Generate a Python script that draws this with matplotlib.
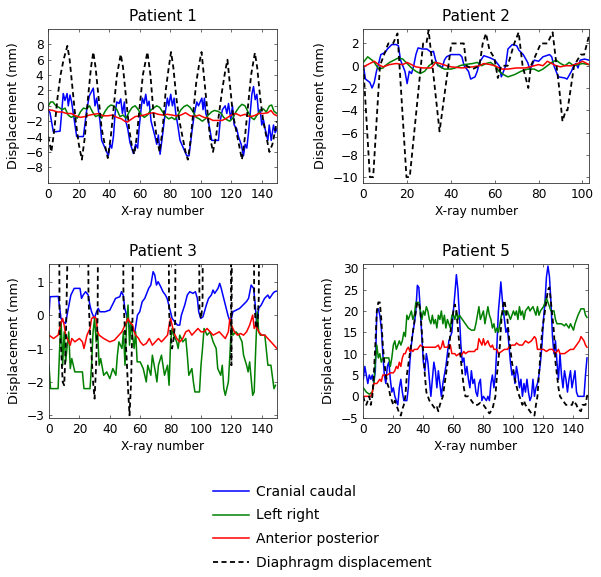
import matplotlib
matplotlib.use("Agg")
import matplotlib.pyplot as plt

# ---- Patient 1 ----
p1_cc_x = [0, 1.1, 3.3, 7.7, 9.8, 10.9, 12.3, 13.1, 14.2, 15.3, 18.6, 23, 25.2, 26.9, 29.5, 30.6, 31.7, 32.8, 33.9, 35,
           36.1, 39.4, 40.5, 41.6, 42.7, 43.8, 44.9, 46.4, 47.5, 48.6, 49.9, 50.8, 52.1, 53.6, 55.8, 57.3, 58.6, 59.5,
           60.8, 61.7, 62.8, 63.9, 65, 66.1, 67.4, 68.7, 70, 71.1, 72.2, 73.3, 74.8, 76.6, 78.1, 79, 80.3, 81.4, 82.5,
           83.6, 84.9, 86.4, 88.6, 90.8, 92.3, 94.1, 95.8, 97.4, 98.5, 100.7, 101.5, 102.4, 103.3, 105, 107.2, 111.6,
           112.7, 114.2, 116, 117.1, 118.2, 119.7, 120.8, 121.9, 123.6, 124.7, 126.5, 128, 129.1, 130.2, 131.3, 132.4,
           133.5, 134.6, 135.7, 136.8, 137.9, 139, 140, 141.1, 142.2, 144, 144.9, 146.2, 147.7, 148.8, 150]
p1_cc = [-0.5, -0.9, -3.4, -3.3, 1.6, 0.7, 1.6, 0, 1.4, 0.5, -4, -4, -0.5, 1.3, 2.3, 0, 1, -0.5, -2, -4.5,
         -5, -6.5, -5, -5.5, -4, -1, 0.5, 0.3, 0.9, -1, 0.5, -2, -3, -4.8, -6.2, -5, -5.5, -3,
         -0.5, 1, 0.3, 1.5, 0, 0.6, -2, -3, -4, -5, -3.8, -6.3, -4, -1, 1, 0, 1.5, 0, 1,
         -1, -2.5, -4.5, -5.5, -6.5, -6.5, -3.5, -1, 0.5, 0, 1, -0.5, 1, -1, -2, -4.5, -4.5,
         -2, -0.5, 0, -1, 0.3, -1.8, 0, -2.5, -3, -4, -5, -6.5, -5, -5.5, -3.5, -1,
         1.5, 2.5, 0.8, 1.5, -1, -0.5, -2.5, -1.8, -3, -4.5, -2.5, -4.5, -2.5, -3.5, -3]
p1_lr_x = [0, 1.5, 3, 5, 7, 9, 11, 13, 15, 17, 19, 21, 23, 25, 27, 29, 31, 33, 35, 37, 39, 41, 43, 45, 47, 49, 51,
           53, 55, 57, 59, 61, 63, 65, 67, 69, 71, 73, 75, 77, 79, 81, 83, 85, 87, 89, 91, 93, 95, 97, 99, 101, 103,
           105, 107, 109, 111, 113, 115, 117, 119, 121, 123, 125, 127, 129, 131, 133, 135, 137, 139, 141, 143, 145,
           146.5, 148, 150]
p1_lr = [0, 0.5, 0.5, 0, -0.2, -0.5, -0.3, -1.2, -1.5, -1.3, -1.6, -0.8, -0.3, -0.4, 0, -0.8, -1.4, -1.2, -1.6, -0.8,
         -0.2, 0.1, 0, -0.5, -1.4, -1.2, -1.6, -0.8, -0.2, 0, -0.5, -1.2, -1.5, -1.2, -0.6, -0.3, 0, -0.2, -0.8, -1.4,
         -1.7, -1.5, -1.8, -1.2, -0.5, -0.1, 0.1, -0.2, -0.8, -1.5, -1.7, -2.0, -1.7, -1.2, -0.8, -0.6, -0.7, -0.9,
         -1.5, -1.8, -2.0, -1.6, -0.8, -0.2, 0.2, 0, -0.8, -1.5, -1.8, -1.2, -0.6, -0.4, -0.8, 0, 0.1, -0.7, -1]
p1_ap_x = [0, 3, 6, 9, 12, 15, 18, 21, 24, 27, 30, 33, 36, 39, 42, 45, 48, 50, 52, 54, 57, 60, 63, 66, 69, 72, 75, 78,
           81, 84, 87, 90, 93, 96, 99, 102, 105, 108, 111, 114, 117, 120, 123, 126, 129, 132, 135, 138, 141, 144, 146,
           148, 150]
p1_ap = [-0.5, -0.6, -0.8, -0.8, -1.0, -1.0, -1.3, -1.5, -1.4, -1.2, -1.1, -1.0, -1.3, -1.3, -1.2, -1.5, -1.7, -2.0,
         -2.1, -1.8, -1.4, -1.3, -1.2, -1.0, -0.9, -1.1, -1.2, -1.1, -1.2, -1.3, -1.2, -0.9, -1.3, -1.4, -1.2, -1.5,
         -1.6, -1.9, -1.9, -1.9, -1.6, -1.2, -1.0, -1.3, -1.1, -1.4, -1.3, -1.0, -1.0, -0.9, -0.6, -1.1, -1.3]
p1_dia_x = [0, 2, 4, 6, 8, 10, 12.5, 14, 16, 18, 20, 22, 24, 26, 28, 29.5, 31, 33, 35, 37, 39, 41, 43, 45, 47.5, 49,
            51, 53, 55, 56.5, 58, 60, 62, 65, 67, 69, 71, 73, 75, 77, 79, 80.5, 82, 84, 86, 88, 90, 91.5, 93, 95, 97,
            99, 100.5, 102, 104, 106, 108, 110, 112, 114, 116, 117.5, 119, 121, 123, 125, 127, 129, 131, 133, 135.5,
            137, 139, 141, 143, 145, 147, 149, 150]
p1_dia = [-4, -6, -3, 1, 4, 6, 7.8, 6, 2, -2, -5, -7, -4, 1, 5, 7, 5, 1, -3, -5, -6.8, -4, 0, 4, 6.7, 5,
          1, -3, -5.5, -6.3, -4, 0, 4, 7, 4, -1, -4, -6, -3, 2, 5, 7, 5, 1, -2, -4, -6, -7, -5, -1, 3,
          5.5, 7, 4, 0, -4, -6, -4, -1, 2, 4.5, 6, 3, -1, -3, -5, -7, -4, 0, 4, 6.9,
          5, 1, -2, -4, -6, -5, -3, -2]

# ---- Patient 2 ----
p2_cc_x = [0, 1, 3, 4, 5, 6, 7, 8, 10, 11, 13, 15, 16, 17, 18, 19, 20, 21, 22, 23, 24, 25, 27, 29, 31, 32, 33, 34,
           35, 36, 37, 38, 40, 44, 45, 46, 48, 49, 51, 52, 53, 55, 58, 60, 62, 63, 64, 65, 66, 68, 70, 71, 73, 75,
           76, 77, 78, 80, 82, 85, 86, 87, 88, 89, 92, 93, 95, 96, 97, 98, 99, 101, 103]
p2_cc = [0, -1.2, -1.5, -2, -1.5, -0.5, 0.2, 1, 1.2, 1.5, 1.9, 1.9, 1.8, 0.5, 0, -0.5, -1.6, -0.5, -0.7, 0, 1, 1.6,
         1.5, 1.5, 1.2, 1.3, 0.5, 0, 0, -0.2, 0.5, 0.8, 1, 1, 0.8, 0, -0.5, -1.2, -1, -0.5, 0.3, 0.9, 0.7, 0.5, 0,
         -1, -0.5, 0, 1.5, 1.9, 1.8, 1.4, 1, 0.3, -0.3, 0, 0.5, 0.4, 0.8, 1, 0.8, 0, -0.5, -1, -1.1, -1.2, -0.5, 0,
         0.2, -0.2, 0.5, 0.6, 0.5]
p2_lr_x = [0, 2, 4, 5, 6, 7, 9, 10, 12, 14, 16, 18, 20, 22, 24, 26, 28, 30, 32, 33, 35, 37, 40, 42, 44, 46, 50, 52,
           54, 56, 58, 60, 62, 64, 66, 69, 72, 75, 78, 80, 82, 84, 86, 88, 90, 92, 94, 96, 98, 100, 103]
p2_lr = [0.3, 0.8, 0.5, 0.3, 0, -0.3, -0.2, 0, 0.3, 0.5, 0.7, 0.6, 0.2, -0.2, -0.5, -0.7, -0.5, 0, 0.3, 0.3, -0.1,
         -0.3, -0.3, -0.2, 0, 0.1, 0.2, 0.3, 0, 0.2, 0.3, 0, -0.5, -0.8, -1, -0.8, -0.5, -0.3, -0.3, -0.5, -0.3, 0,
         0.3, 0.5, 0.2, 0, 0.3, 0, 0.1, 0.2, 0.1]
p2_ap_x = [0, 3, 5, 7, 9, 12, 15, 18, 20, 22, 24, 27, 31, 33, 35, 38, 40, 45, 50, 53, 55, 58, 60, 63, 66, 70, 74, 76,
           78, 80, 82, 84, 86, 88, 90, 92, 95, 98, 100, 101, 103]
p2_ap = [-0.1, 0.2, 0.4, 0.1, -0.1, 0.1, 0.2, 0.1, 0.3, 0.1, -0.1, -0.2, -0.2, 0.3, 0.2, 0, -0.1, -0.2, -0.1, 0, 0.2,
         0.1, 0, -0.3, -0.3, -0.2, -0.2, -0.1, 0, 0.1, 0, 0.4, 0.2, 0, -0.1, 0, 0, 0.2, 0.4, 0.3, 0.1]
p2_dia_x = [0, 3, 4.5, 7.6, 11.4, 13.6, 15.6, 19.7, 21.2, 27.3, 28.8, 29.8, 34.8, 40.2, 45.9, 47, 50, 53, 54.5, 56,
            57.6, 59.8, 61.4, 62.9, 65.9, 68.9, 70.9, 72.7, 75.3, 76.5, 78.8, 81, 84, 86.4, 88.2, 89.4, 90.9, 92.4,
            93.2, 94.7, 96.2, 99.2, 100.8, 103]
p2_dia = [0, -10, -10, 0, 2, 2, 2.9, -10, -10, 2, 2, 3.2, -5.9, 2, 2, 0, -0.3, 0, 2, 2.9,
          1.4, 0.7, -1.1, 0, 0, 2, 3, 0, -2, 0, 1, 2, 2, 3, 0, -2, -5, -4,
          -4, -2, 0, 1, 1, 2.7]

# ---- Patient 3 ----
p3_cc_x = [0, 0.7, 6.1, 7.9, 9.4, 10.9, 12.7, 14.4, 16.6, 20.4, 21.4, 22.5, 24.1, 25.8, 26.9, 28, 29.8, 31.3, 32.4,
           33.5, 36.8, 40, 42.2, 43.8, 46.6, 47.7, 48.8, 49.9, 51.6, 53.2, 55.4, 56.5, 58.2, 59.7, 61.3, 63, 65.6, 67,
           68.5, 69.6, 70.7, 71.8, 73.5, 75, 76.6, 77.7, 79.4, 81, 82.7, 84.5, 86, 87.1, 89.3, 91, 92.6, 94.7, 96.3,
           97.6, 98.5, 99.8, 101.3, 103.5, 105, 106.8, 107.9, 109, 111.2, 112.3, 113.3, 114.4, 115.5, 116.6, 117.7,
           118.8, 120, 121, 123.2, 125.4, 127.6, 129.8, 131.3, 133, 134.6, 135.7, 136.8, 137.9, 139.6, 141.8, 144,
           145.1, 147.3, 148.4, 150]
p3_cc = [0, 0.55, 0.56, -0.1, -0.2, -0.25, 0.2, 0.6, 0.8, 0.8, 0.5, 0.6, 0.7, 0.6, 0.3, 0.1, -0.1, 0.1, 0.2,
         0.1, 0.1, 0.15, 0.35, 0.5, 0.55, 0.7, 0.6, 0.2, -0.1, -0.4, -0.45, -0.5, 0, 0.1, 0.4, 0.5, 0.8, 0.9,
         1.3, 1.2, 0.9, 1.0, 0.85, 0.7, 0.6, 0.5, 0.2, -0.1, -0.2, -0.3, -0.3, 0, 0.3, 0.6, 0.7, 0.65, 0.7,
         0.5, 0.1, -0.1, -0.05, 0.3, 0.5, 0.6, 0.75, 0.65, 0.8, 0.95, 0.8, 0.6, 0.4, 0.2, 0,
         -0.15, -0.1, 0.1, 0.15, 0.2, 0.3, 0.4, 0.5, 0.9, 0.8, 0.3, -0.4, 0.2, 0.3, 0.5, 0.6,
         0.5, 0.65, 0.7, 0.72]
p3_lr_x = [0, 1, 6, 7, 8, 9, 10, 11, 12, 13, 14, 15, 17, 22, 23, 27, 28, 29, 30, 31, 32, 33, 34, 36, 38, 40, 42, 44,
           45, 46, 48, 49, 50, 51, 52, 53, 54, 56, 57, 58, 60, 62, 64, 65, 67, 68, 70, 71, 72, 74, 76, 78, 79, 80, 81,
           82, 84, 85, 86, 88, 90, 91, 92, 94, 95, 96, 99, 100, 101, 102, 104, 106, 108, 110, 111, 113, 114, 115, 116,
           118, 119, 120, 121, 123, 125, 127, 128, 130, 131, 132, 134, 135, 136, 137, 138, 139, 142, 144, 146, 148,
           149]
p3_lr = [-1.5, -2.2, -2.2, -1, -0.2, -1.5, -0.5, -1.4, -0.9, -0.5, -1.6, -1.3, -1.7, -1.7, -2.2, -2.2, -1.5, -0.5,
         -0.1, -0.8, -0.5, -1.5, -1.3, -1.8, -1.7, -1.9, -1.6, -1.8, -1.2, -0.8, -1.0, -0.5, -1.5, -0.3, 0.3, -0.9,
         -0.2, -1.0, -0.5, -1.4, -1.4, -1.6, -2.0, -1.5, -1.8, -1.2, -1.7, -2.0, -1.5, -1.2, -1.8, -1.5, -2.1, -0.8,
         -0.4, -0.6, -0.8, -1.0, -0.6, -0.8, -0.7, -1.2, -1.8, -1.6, -2.0, -2.3, -2.3, -1.5, -1.0, -0.4, -0.6, -0.5,
         -0.8, -1.0, -1.6, -1.8, -1.5, -2.2, -2.4, -2.0, -1.2, -0.3, -0.6, -0.5, -0.6, -0.8, -1.2, -1.5, -1.7, -1.4,
         -2.4, -2.3, -1.0, 0.1, -0.5, -0.6, -0.6, -1.5, -1.5, -2.2, -2.1]
p3_ap_x = [0, 3, 6, 8, 9, 10, 11, 13, 14, 15, 17, 20, 22, 23, 25, 27, 28, 30, 31, 32, 33, 36, 40, 43, 46, 48, 50, 52,
           53, 55, 56, 57, 59, 60, 62, 64, 66, 68, 70, 72, 74, 76, 78, 79, 80, 81, 82, 84, 86, 88, 90, 92, 94, 96, 98,
           100, 102, 104, 106, 108, 110, 112, 114, 116, 118, 119, 120, 122, 124, 126, 128, 130, 132, 134, 135, 136,
           138, 140, 142, 144, 146, 148, 150]
p3_ap = [-0.6, -0.7, -0.6, -0.2, -0.1, -0.3, -0.6, -0.8, -0.9, -0.7, -0.8, -0.7, -0.8, -1.0, -0.6, -0.4, -0.1, -0.05,
         -0.1, -0.5, -0.6, -0.7, -0.8, -0.75, -0.6, -0.5, -0.3, -0.1, -0.2, -0.3, -0.5, -0.6, -0.7, -0.8, -0.9, -0.85,
         -0.7, -0.9, -0.8, -0.7, -0.8, -0.7, -0.6, -0.3, -0.1, -0.3, -0.5, -0.7, -0.8, -0.7, -0.5, -0.45, -0.6, -0.5,
         -0.4, -0.5, -0.5, -0.4, -0.5, -0.6, -0.55, -0.5, -0.6, -0.7, -0.5, -0.1, -0.3, -0.5, -0.6, -0.55, -0.6, -0.5,
         -0.3, 0, -0.4, -0.3, -0.5, -0.6, -0.6, -0.7, -0.8, -0.9, -1.0]
# diaphragm of patient 3 is mostly above the axis range, only the dips are seen
p3_dia_x = [0, 6, 7, 8, 9, 10, 11, 12, 13, 25, 26, 27, 28, 29, 30, 31, 32, 33, 48, 49, 50, 51, 52, 53, 54, 55, 56, 78,
            79, 80, 81, 82, 83, 84, 98, 99, 100, 101, 102, 119, 120, 121, 134, 135, 136, 137, 138, 139, 150]
p3_dia = [10, 10, -0.5, -1.0, -2.0, -2.1, -1.0, 1.4, 10, 10, 0.5, -0.5, -1.2, -2.0, -2.5, -1.5, 0, 10, 10, 0.5, -0.5,
          -1.2, -2.2, -3.0, -2.0, 0, 10, 10, 0.1, -0.6, -1.0, -0.7, -0.2, 10, 10, 0.2, -0.1, 0.3, 10, 10, -1.5, 10,
          10, 0.5, -0.3, -0.4, 0.5, 10, 10]

# ---- Patient 5 ----
p5_cc_x = [0, 1, 2, 3, 4, 5, 6, 7, 8, 9, 10, 11, 12, 13, 14, 15, 16, 17, 18, 19, 20, 21, 22, 23, 24, 25, 26, 27, 29,
           30, 31, 32, 33, 34, 35, 36, 37, 38, 39, 40, 41, 42, 43, 44, 45, 46, 47, 48, 49, 50, 51, 52, 53, 55, 56, 57,
           58, 59, 60, 61, 62, 63, 64, 65, 66, 67, 68, 69, 70, 71, 72, 73, 74, 75, 76, 77, 78, 79, 80, 82, 83, 84, 85,
           86, 87, 88, 89, 90, 91, 91.6, 93, 94, 95, 96, 97, 98, 99, 100, 101, 102, 103, 104, 105, 106, 107, 108, 109,
           110, 111, 112, 113, 114, 115, 116, 117, 118, 119, 120, 121, 122, 123, 124, 125, 126, 127, 128, 129, 130,
           131, 132, 133, 134, 135, 136, 137, 138, 139, 140, 141, 142, 143, 145, 147, 148, 149]
p5_cc = [4, 7, 5, 3, 5, 4, 5, 3, 6, 20, 20.5, 19, 16, 10, 5, 3, 7, 8, 4, 1, 2, 0, -1, -2, 2, 4, 1, -1, -1,
         2, 8, 12, 15, 17, 20, 26, 25.5, 20, 14, 8, 6, 10, 8, 4, 0, 4, 8, 6, 2, 6, 3, 0, 3, 7, 10, 13,
         14, 15, 20, 24, 28.5, 25, 19, 12, 8, 9, 5, 7, 4, 2, 6, 3, 4, 1, 0, 3, 4, -1, 0, -1, 0, -1, 3,
         5, 2, 5, 12, 20, 24, 26.8, 21, 18, 15, 16, 12, 8, 5, 6, 3, 7, 5, 2, 4, 0, 3, 1, 4,
         1, -1, 0, 4, 0, 2, 3, 5, 8, 12, 18, 22, 28, 30.5, 28, 22, 14, 10, 13, 8, 4,
         10, 5, 2, 6, 4, 1, 4, 6, 2, 4, 6, 1, 0, 0, 0, 5, 9]
p5_lr_x = [0, 2, 4, 6, 7, 8, 9, 10, 11, 12, 13, 15, 17, 18, 19, 20, 21, 22, 24, 25, 26, 27, 28, 29, 30, 31, 32, 33,
           34, 35, 36, 37, 38, 39, 40, 41, 42, 43, 44, 45, 46, 47, 48, 49, 50, 51, 52, 53, 54, 55, 56, 57, 58, 59, 60,
           61, 62, 63, 64, 66, 68, 70, 72, 74, 75, 76, 77, 78, 79, 80, 81, 82, 83, 84, 85, 86, 87, 88, 89, 90, 91, 92,
           93, 94, 95, 96, 98, 99, 100, 101, 102, 103, 104, 105, 106, 107, 108, 110, 111, 113, 114, 115, 116, 117,
           118, 120, 122, 123, 124, 125, 127, 128, 129, 132, 134, 135, 137, 138, 140, 141, 143, 145, 147, 148, 149]
p5_lr = [2, 1, 0.5, 1, 3, 8, 12, 9, 10, 8, 9, 9, 9, 7, 9, 12, 13, 11, 13, 12, 13, 15, 14, 19, 18, 19, 20, 18,
         19, 22, 22, 22, 20, 18, 20, 19, 21, 20, 18, 17, 19, 17, 18, 16, 19, 18, 20, 17, 19, 16, 18, 17, 16, 19, 19,
         18, 20, 18, 19, 18, 17, 16, 15.5, 15.5, 17, 19, 21, 18, 19, 20, 17, 19, 21, 19, 18, 16, 17, 15, 16, 15, 17,
         19, 20, 20, 19, 20, 18, 19, 20, 19, 20, 18, 21, 19, 20, 18, 20, 21, 20, 21, 20, 19, 21, 19,
         20, 21, 23, 22, 21, 20, 20, 18, 17, 17, 16.5, 17, 16, 17, 15.5, 17, 19, 20.5, 20.5, 19, 18.5]
p5_ap_x = [0, 3, 5, 6, 7, 9, 11, 12, 13, 16, 18, 20, 21, 22, 23, 24, 25, 26, 27, 28, 29, 30, 31, 32, 33, 34, 35, 36,
           37, 38, 40, 44, 48, 50, 51, 52, 53, 54, 56, 57, 58, 59, 61, 62, 64, 65, 66, 67, 68, 70, 72, 74, 75, 76, 77,
           79, 80, 81, 83, 84, 85, 86, 87, 89, 90, 92, 94, 96, 97, 99, 101, 102, 104, 106, 108, 110, 112, 114, 115,
           116, 118, 120, 122, 124, 126, 128, 130, 131, 134, 136, 138, 140, 142, 144, 145, 147, 148, 149]
p5_ap = [0, 0, 0, 1, 3, 3, 4, 3.5, 5, 5, 5.5, 5.5, 6, 7, 6.5, 8, 7, 9, 10, 10, 11, 11.5, 10.5, 11, 10.5, 11, 11, 11,
         11.5, 12, 11.5, 11.5, 11.5, 12, 11, 11.5, 13, 11.5, 11.5, 12, 12, 10, 10, 9.5, 10, 9.5, 10, 10.5, 10, 10.5,
         10.5, 10.5, 11, 11, 13.5, 12, 13.5, 12, 13, 12, 11.5, 12, 11, 11, 10, 10.5, 11, 11, 11.5, 12, 12, 12.5, 12,
         12, 13, 12.5, 13, 14, 13.5, 11, 11, 11, 10.5, 11, 11, 10, 11, 10, 10, 10.5, 11, 11, 12, 13, 14, 13, 12, 11.5]
p5_dia_x = [0, 1, 2, 3, 4, 5, 6, 7, 8, 9, 10, 11, 12, 13, 14, 15, 16, 17, 18, 19, 20, 21, 22, 23, 24, 25, 26, 27, 28,
            29, 31, 33, 35, 36, 37, 38, 39, 40, 41, 42, 43, 44, 46, 48, 49, 50, 51, 53, 55, 57, 58, 60, 61, 62, 64,
            66, 67, 68, 70, 72, 74, 76, 78, 80, 82, 84, 86, 88, 89, 91, 92, 93, 94, 96, 97, 99, 101, 103, 104, 105,
            106, 107, 108, 110, 112, 114, 115, 116, 117, 118, 119, 121, 123, 124, 125, 127, 128, 129, 130, 131, 133,
            135, 137, 139, 140, 142, 143, 145, 146, 148, 149, 150]
p5_dia = [0, -1.5, -2, -1, 0, -2, 0, 5, 12, 20, 22, 22, 18, 12, 8, 5, 3, 2, 0, -1, -2, -1, -2, -3, -4, -4.5, -3, -2, 0,
          5, 10, 15, 20, 22, 22, 20, 15, 10, 5, 1, 0, -1, -2, -3, -2.5, -3.5, -2, 0, 5, 10, 15, 20, 21.5, 20, 12,
          5, 2, 0, 0, -1, -2, -2, -1.5, -2, -3, -4, -3, 0, 5, 12, 18, 21, 22.5, 18, 14, 8, 4, 1, 0, -1,
          -2, -1, -2, -3, -4, -4.5, -2, 0, 5, 10, 15, 20, 25, 25.5, 22, 15, 8, 5, 2, 0, -1,
          -2, -2, -2, -1, -2, -3, -3.5, -2, -2, 0, 1]

legend_labels = ["Cranial caudal", "Left right", "Anterior posterior", "Diaphragm displacement"]

plt.rcParams['font.family'] = ['DejaVu Sans']
plt.rcParams['xtick.direction'] = 'in'
plt.rcParams['ytick.direction'] = 'in'
plt.rcParams['xtick.top'] = True
plt.rcParams['ytick.right'] = True

fig = plt.figure(figsize=(6.01, 5.77), dpi=100)

blue = (0, 0, 1)
green = (0, 0.5, 0)
red = (1, 0, 0)


def panel(rect, title, cc, lr, ap, dia, xlim, ylim, xticks, yticks):
    ax = fig.add_axes(rect)
    ax.plot(cc[0], cc[1], color=blue, lw=1.1)
    ax.plot(lr[0], lr[1], color=green, lw=1.1)
    ax.plot(ap[0], ap[1], color=red, lw=1.1)
    ax.plot(dia[0], dia[1], color='black', lw=1.3, linestyle=(0, (2.8, 1.9)))
    ax.set_xlim(xlim)
    ax.set_ylim(ylim)
    ax.set_xticks(xticks)
    ax.set_yticks(yticks)
    ax.tick_params(labelsize=8.7, length=2.5, width=0.5, color='0.2')
    for s in ax.spines.values():
        s.set_linewidth(0.6)
        s.set_color('0.2')
    ax.set_title(title, fontsize=11, pad=6)
    ax.set_xlabel("X-ray number", fontsize=8.7, labelpad=3.5)
    ax.set_ylabel("Displacement (mm)", fontsize=9.2)
    return ax


ax1 = panel([0.0804, 0.6834, 0.3805, 0.2664], "Patient 1", (p1_cc_x, p1_cc), (p1_lr_x, p1_lr),
            (p1_ap_x, p1_ap), (p1_dia_x, p1_dia), (0, 150), (-10, 10),
            range(0, 141, 20), range(-8, 9, 2))
ax2 = panel([0.6045, 0.6834, 0.3755, 0.2664], "Patient 2", (p2_cc_x, p2_cc), (p2_lr_x, p2_lr),
            (p2_ap_x, p2_ap), (p2_dia_x, p2_dia), (0, 103), (-10.5, 3.3),
            range(0, 101, 20), range(-10, 3, 2))
ax3 = panel([0.0815, 0.2761, 0.3794, 0.2664], "Patient 3", (p3_cc_x, p3_cc), (p3_lr_x, p3_lr),
            (p3_ap_x, p3_ap), (p3_dia_x, p3_dia), (0, 150), (-3.07, 1.53),
            range(0, 141, 20), range(-3, 2, 1))
ax5 = panel([0.6045, 0.2761, 0.3747, 0.2664], "Patient 5", (p5_cc_x, p5_cc), (p5_lr_x, p5_lr),
            (p5_ap_x, p5_ap), (p5_dia_x, p5_dia), (0, 150), (-5, 31),
            range(0, 141, 20), range(-5, 31, 5))

handles = ax1.get_lines()
fig.legend(handles, legend_labels, loc='upper left', bbox_to_anchor=(0.354, 0.160),
           frameon=False, fontsize=10, handlelength=2.6, handletextpad=0.5,
           labelspacing=0.7, borderpad=0, borderaxespad=0)

fig.savefig("out.png", dpi=100)
